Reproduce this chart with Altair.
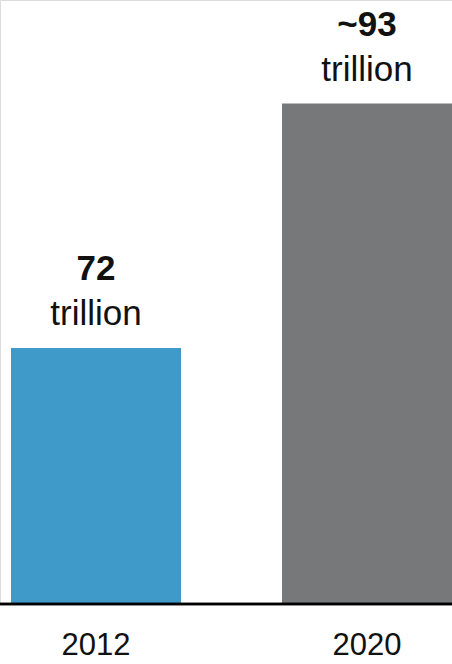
import altair as alt
import pandas as pd

years = ["2012", "2020"]
values = [72, 93]
value_labels = ["72", "~93"]
unit_labels = ["trillion", "trillion"]
colors = ["#409ac9", "#77787a"]

df = pd.DataFrame({
    "year": years,
    "value": values,
    "label": value_labels,
    "unit": unit_labels,
    "color": colors,
})

FONT = "Liberation Sans"

x = alt.X(
    "year:N",
    sort=years,
    scale=alt.Scale(range=[11, 452], paddingInner=0.3727, paddingOuter=0),
    axis=alt.Axis(
        title=None, ticks=False, domain=False, grid=False,
        labelFontSize=31, labelFont=FONT, labelColor="#111111",
        labelPadding=50, labelAngle=0, labelBaseline="alphabetic",
    ),
)
yscale = alt.Scale(domain=[50, 101.9], zero=False, nice=False)
y = alt.Y("value:Q", scale=yscale, axis=None)

base = alt.Chart(df).encode(x=x)

bars = base.mark_bar().encode(
    y=y,
    y2=alt.datum(50),
    color=alt.Color("color:N", scale=None),
)

num_text = base.mark_text(
    font=FONT, fontSize=35, fontWeight="bold", color="#111111",
    baseline="alphabetic", dy=-68,
).encode(y=y, text="label:N")

unit_text = base.mark_text(
    font=FONT, fontSize=35, color="#111111",
    baseline="alphabetic", dy=-23,
).encode(y=y, text="unit:N")

baseline_rule = alt.Chart(df).mark_rule(color="#000000", strokeWidth=2.5).encode(
    x=alt.value(0), x2=alt.value(452), y=alt.Y("v:Q", scale=yscale)
).transform_calculate(v="50")

chart = alt.layer(bars, num_text, unit_text, baseline_rule).properties(
    width=452, height=604,
    autosize=alt.AutoSizeParams(type="none"),
    padding={"left": 0, "top": 0, "right": 0, "bottom": 60},
).configure_view(stroke=None).configure(background="#ffffff")

chart.save("out.html", embed_options={"renderer": "svg", "actions": False})
